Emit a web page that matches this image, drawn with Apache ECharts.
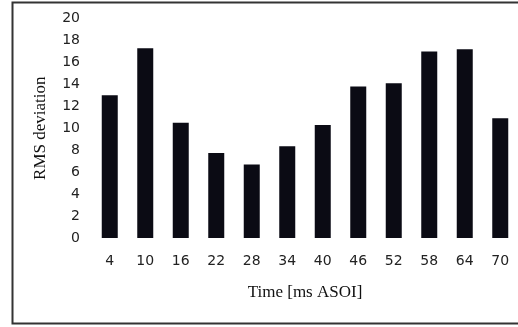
<!DOCTYPE html>
<html>
<head>
<meta charset="utf-8">
<script src="https://cdn.jsdelivr.net/npm/echarts@6/dist/echarts.min.js"></script>
<style>
  html, body { margin: 0; padding: 0; background: #fff; }
  #chart { width: 518px; height: 327px; }
</style>
</head>
<body>
<div id="chart"></div>
<script>
// Time after stimulus onset (ms) and RMS deviation per bin
const timeLabels = ['4', '10', '16', '22', '28', '34', '40', '46', '52', '58', '64', '70'];
const rmsDeviation = [13.0, 17.3, 10.5, 7.75, 6.7, 8.35, 10.3, 13.8, 14.1, 17.0, 17.2, 10.9];
const yTicks = [0, 2, 4, 6, 8, 10, 12, 14, 16, 18, 20];

const chart = echarts.init(document.getElementById('chart'), null, { renderer: 'canvas' });

chart.setOption({
  animation: false,
  backgroundColor: '#ffffff',
  graphic: [{
    type: 'rect',
    shape: { x: 12.5, y: 2.5, width: 520, height: 321 },
    style: { fill: 'none', stroke: '#333333', lineWidth: 2 },
    silent: true
  }],
  grid: { left: 92, right: -3, top: 18.5, bottom: 89, containLabel: false },
  xAxis: {
    type: 'category',
    data: timeLabels,
    boundaryGap: true,
    axisLine: { show: false },
    axisTick: { show: false },
    axisLabel: { fontFamily: 'DejaVu Sans', fontSize: 14, color: '#222', margin: 16 },
    name: 'Time [ms ASOI]',
    nameLocation: 'middle',
    nameGap: 46,
    nameTextStyle: { fontFamily: 'Liberation Serif', fontSize: 17, color: '#111' }
  },
  yAxis: {
    type: 'value',
    min: yTicks[0],
    max: yTicks[yTicks.length - 1],
    interval: 2,
    axisLine: { show: false },
    axisTick: { show: false },
    splitLine: { show: false },
    axisLabel: { fontFamily: 'DejaVu Sans', fontSize: 14, color: '#222', margin: 12 },
    name: 'RMS deviation',
    nameLocation: 'middle',
    nameGap: 43,
    nameTextStyle: { fontFamily: 'Liberation Serif', fontSize: 17, color: '#111' }
  },
  series: [{
    type: 'bar',
    data: rmsDeviation,
    barWidth: 16,
    itemStyle: { color: '#0b0b14' }
  }]
});
</script>
</body>
</html>
